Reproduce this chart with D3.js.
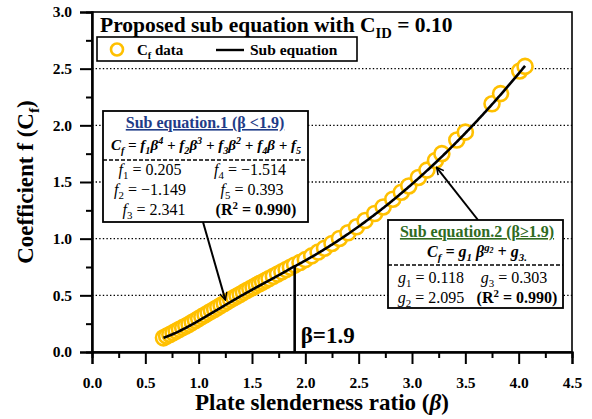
<!DOCTYPE html>
<html>
<head>
<meta charset="utf-8">
<script src="https://cdn.jsdelivr.net/npm/d3@7"></script>
<style>
  body { margin: 0; background: #fff; }
  svg { display: block; }
  text { font-family: "Liberation Serif", "Times New Roman", serif; }
</style>
</head>
<body>
<div id="chart"></div>
<script>
"use strict";

// Cf data points
const betaData = [0.67, 0.70, 0.73, 0.76, 0.79, 0.82, 0.85, 0.88, 0.91, 0.94, 0.97, 1.00,
  1.03, 1.06, 1.09, 1.12, 1.15, 1.18, 1.21, 1.24, 1.27, 1.30, 1.33, 1.36, 1.39, 1.42,
  1.45, 1.48, 1.51, 1.54, 1.57, 1.60, 1.63, 1.66, 1.70, 1.74, 1.78, 1.82, 1.86, 1.90,
  1.95, 2.00, 2.06, 2.12, 2.18, 2.25, 2.32, 2.40, 2.48, 2.56, 2.65, 2.73, 2.82, 2.90,
  2.97, 3.06, 3.14, 3.22, 3.28, 3.42, 3.50, 3.75, 3.83, 4.01, 4.06];
const cfData = [0.125, 0.14, 0.155, 0.17, 0.185, 0.20, 0.215, 0.23, 0.245, 0.262, 0.278, 0.295,
  0.312, 0.328, 0.345, 0.362, 0.378, 0.395, 0.412, 0.428, 0.445, 0.462, 0.478, 0.494, 0.51, 0.526,
  0.542, 0.557, 0.572, 0.588, 0.603, 0.618, 0.633, 0.648, 0.668, 0.688, 0.708, 0.728, 0.748, 0.768,
  0.79, 0.815, 0.848, 0.882, 0.916, 0.958, 1.002, 1.052, 1.105, 1.16, 1.222, 1.28, 1.348, 1.41,
  1.465, 1.54, 1.605, 1.69, 1.75, 1.87, 1.94, 2.19, 2.28, 2.48, 2.52];

// fitted coefficients printed on the chart
const fCoef = [0.205, -1.149, 2.341, -1.514, 0.393];
const gCoef = [0.118, 2.095, 0.303];
const splitBeta = 1.9;
const curveStart = 0.67;
const curveEnd = 4.06;

const xTicks = [0, 0.5, 1, 1.5, 2, 2.5, 3, 3.5, 4, 4.5];
const yTicks = [0, 0.5, 1, 1.5, 2, 2.5, 3];
const xMinor = [0.25, 0.75, 1.25, 1.75, 2.25, 2.75, 3.25, 3.75, 4.25];
const yMinor = [0.25, 0.75, 1.25, 1.75, 2.25, 2.75];
const gridValues = [0.5, 1, 1.5, 2, 2.5];

const size = { width: 592, height: 419, left: 92, right: 572, top: 12, bottom: 352 };
const gold = "#FFC000";

const svg = d3.select("#chart").append("svg")
  .attr("width", size.width)
  .attr("height", size.height);

const x = d3.scaleLinear().domain([0, 4.5]).range([size.left, size.right]);
const y = d3.scaleLinear().domain([0, 3]).range([size.bottom, size.top]);

// write text made of parts: {t, i (italic), s: "sub" | "sup" | "supsub"}
function rich(el, parts, fs) {
  let shift = 0;
  parts.forEach(p => {
    let target = 0, scale = 1;
    if (p.s === "sub") { target = fs * 0.28; scale = 0.68; }
    if (p.s === "sup") { target = -fs * 0.38; scale = 0.68; }
    if (p.s === "supsub") { target = -fs * 0.22; scale = 0.5; }
    const ts = el.append("tspan")
      .attr("dy", target - shift)
      .style("font-size", (fs * scale) + "px")
      .text(p.t);
    if (p.i) ts.style("font-style", "italic");
    shift = target;
  });
  return el;
}

// dotted grid
svg.append("g").selectAll("line")
  .data(gridValues)
  .enter()
  .append("line")
  .attr("x1", size.left).attr("x2", size.right)
  .attr("y1", d => y(d)).attr("y2", d => y(d))
  .attr("stroke", "#000")
  .attr("stroke-width", 1.4)
  .attr("stroke-dasharray", "1.4,2.2");

// frame
svg.append("rect")
  .attr("x", size.left).attr("y", size.top)
  .attr("width", size.right - size.left)
  .attr("height", size.bottom - size.top)
  .attr("fill", "none")
  .attr("stroke", "#000")
  .attr("stroke-width", 1.6);

// axes
function styleAxis(g) {
  g.select(".domain").attr("stroke-width", 2);
  g.selectAll(".tick line").attr("stroke-width", 2);
  g.selectAll(".tick text")
    .style("font-family", "'Liberation Serif', serif")
    .style("font-weight", "bold")
    .style("font-size", "15.5px")
    .attr("fill", "#000");
}

svg.append("g")
  .attr("transform", "translate(0," + size.bottom + ")")
  .call(d3.axisBottom(x).tickValues(xTicks).tickSize(12).tickPadding(13).tickFormat(d3.format(".1f")))
  .call(styleAxis);
svg.append("g")
  .attr("transform", "translate(0," + size.bottom + ")")
  .call(d3.axisBottom(x).tickValues(xMinor).tickSize(6).tickFormat(""))
  .call(styleAxis);
svg.append("g")
  .attr("transform", "translate(" + size.left + ",0)")
  .call(d3.axisLeft(y).tickValues(yTicks).tickSize(12).tickPadding(8).tickFormat(d3.format(".1f")))
  .call(styleAxis);
svg.append("g")
  .attr("transform", "translate(" + size.left + ",0)")
  .call(d3.axisLeft(y).tickValues(yMinor).tickSize(6).tickFormat(""))
  .call(styleAxis);

// data circles
const points = betaData.map((b, i) => ({ b: b, c: cfData[i] }));
svg.append("g").selectAll("circle")
  .data(points)
  .enter()
  .append("circle")
  .attr("cx", d => x(d.b))
  .attr("cy", d => y(d.c))
  .attr("r", 7.5)
  .attr("fill", "#fff")
  .attr("stroke", gold)
  .attr("stroke-width", 2.6);

// sub equation curve
function subEq(b) {
  if (b < splitBeta) {
    return fCoef[0] * b ** 4 + fCoef[1] * b ** 3 + fCoef[2] * b ** 2 + fCoef[3] * b + fCoef[4];
  }
  return gCoef[0] * Math.pow(b, gCoef[1]) + gCoef[2];
}
const curveB = d3.range(curveStart, curveEnd, 0.01).concat([curveEnd]);
svg.append("path")
  .datum(curveB)
  .attr("fill", "none")
  .attr("stroke", "#000")
  .attr("stroke-width", 2.6)
  .attr("d", d3.line().x(d => x(d)).y(d => y(subEq(d))));

// beta = 1.9 marker
svg.append("line")
  .attr("x1", x(splitBeta)).attr("x2", x(splitBeta))
  .attr("y1", y(subEq(splitBeta))).attr("y2", size.bottom)
  .attr("stroke", "#000")
  .attr("stroke-width", 2.6);
svg.append("text")
  .attr("x", x(splitBeta) + 6)
  .attr("y", 343)
  .style("font-size", "23px")
  .style("font-weight", "bold")
  .text("β=1.9");

// title
rich(svg.append("text").attr("x", 100).attr("y", 32).style("font-weight", "bold"),
  [{ t: "Proposed sub equation with C" }, { t: "ID", s: "sub" }, { t: " = 0.10" }], 21.5);

// legend
svg.append("rect")
  .attr("x", 97).attr("y", 37).attr("width", 260).attr("height", 24)
  .attr("fill", "#fff").attr("stroke", "#000").attr("stroke-width", 1.6);
svg.append("circle")
  .attr("cx", 117).attr("cy", 49.5).attr("r", 6)
  .attr("fill", "#fff").attr("stroke", gold).attr("stroke-width", 2.6);
rich(svg.append("text").attr("x", 137).attr("y", 54.5).style("font-weight", "bold"),
  [{ t: "C" }, { t: "f", s: "sub" }, { t: " data" }], 15);
svg.append("line")
  .attr("x1", 216).attr("x2", 244).attr("y1", 50).attr("y2", 50)
  .attr("stroke", "#000").attr("stroke-width", 2.4);
svg.append("text")
  .attr("x", 250).attr("y", 54.5)
  .style("font-size", "15.5px").style("font-weight", "bold")
  .text("Sub equation");

// axis titles
rich(svg.append("text")
  .attr("transform", "translate(33,182) rotate(-90)")
  .attr("text-anchor", "middle")
  .style("font-weight", "bold"),
  [{ t: "Coefficient f (C" }, { t: "f", s: "sub" }, { t: ")" }], 23);
rich(svg.append("text")
  .attr("x", 322).attr("y", 410)
  .attr("text-anchor", "middle")
  .style("font-weight", "bold"),
  [{ t: "Plate slenderness ratio (" }, { t: "β", i: true }, { t: ")" }], 23);

// arrows
svg.append("defs").append("marker")
  .attr("id", "arrow")
  .attr("viewBox", "0 0 10 10")
  .attr("refX", 9).attr("refY", 5)
  .attr("markerWidth", 9).attr("markerHeight", 9)
  .attr("markerUnits", "userSpaceOnUse")
  .attr("orient", "auto")
  .append("path")
  .attr("d", "M1,1 L9,5 L1,9")
  .attr("fill", "none")
  .attr("stroke", "#000")
  .attr("stroke-width", 1.6);

svg.append("line")
  .attr("x1", 203).attr("y1", 222)
  .attr("x2", x(1.25)).attr("y2", y(0.46))
  .attr("stroke", "#000").attr("stroke-width", 2)
  .attr("marker-end", "url(#arrow)");
svg.append("line")
  .attr("x1", 478).attr("y1", 220)
  .attr("x2", x(3.23)).attr("y2", y(1.63))
  .attr("stroke", "#000").attr("stroke-width", 2)
  .attr("marker-end", "url(#arrow)");

// equation box 1
const b1 = svg.append("g");
b1.append("rect")
  .attr("x", 103).attr("y", 111).attr("width", 205).attr("height", 111)
  .attr("fill", "#fff").attr("stroke", "#000").attr("stroke-width", 1.8);
b1.append("text")
  .attr("x", 205).attr("y", 128).attr("text-anchor", "middle")
  .attr("fill", "#1F3C88")
  .style("font-size", "16px").style("font-weight", "bold")
  .style("text-decoration", "underline")
  .text("Sub equation.1 (β <1.9)");
rich(b1.append("text").attr("x", 206).attr("y", 150).attr("text-anchor", "middle")
  .style("font-weight", "bold").style("font-style", "italic"),
  [{ t: "C" }, { t: "f", s: "sub" }, { t: " = " }, { t: "f" }, { t: "1", s: "sub" }, { t: "β" }, { t: "4", s: "sup" },
   { t: " + " }, { t: "f" }, { t: "2", s: "sub" }, { t: "β" }, { t: "3", s: "sup" },
   { t: " + " }, { t: "f" }, { t: "3", s: "sub" }, { t: "β" }, { t: "2", s: "sup" },
   { t: " + " }, { t: "f" }, { t: "4", s: "sub" }, { t: "β" }, { t: " + " }, { t: "f" }, { t: "5", s: "sub" }], 15);
b1.append("line")
  .attr("x1", 103).attr("x2", 308).attr("y1", 160).attr("y2", 160)
  .attr("stroke", "#000").attr("stroke-width", 1.4).attr("stroke-dasharray", "4,2");

function coefRow(g, cx, yy, name, idx, value) {
  rich(g.append("text").attr("x", cx).attr("y", yy).attr("text-anchor", "middle"),
    [{ t: name, i: true }, { t: idx, s: "sub" }, { t: " = " + value }], 16);
}
coefRow(b1, 150, 175, "f", "1", "0.205");
coefRow(b1, 250, 175, "f", "4", "−1.514");
coefRow(b1, 150, 195, "f", "2", "−1.149");
coefRow(b1, 252, 195, "f", "5", "0.393");
coefRow(b1, 154, 215, "f", "3", "2.341");
rich(b1.append("text").attr("x", 256).attr("y", 215).attr("text-anchor", "middle").style("font-weight", "bold"),
  [{ t: "(R" }, { t: "2", s: "sup" }, { t: " = 0.990)" }], 16);

// equation box 2
const b2 = svg.append("g");
b2.append("rect")
  .attr("x", 388).attr("y", 220).attr("width", 175).attr("height", 88)
  .attr("fill", "#fff").attr("stroke", "#000").attr("stroke-width", 1.8);
b2.append("text")
  .attr("x", 477).attr("y", 237).attr("text-anchor", "middle")
  .attr("fill", "#2F6B1F")
  .style("font-size", "16px").style("font-weight", "bold")
  .style("text-decoration", "underline")
  .text("Sub equation.2 (β≥1.9)");
rich(b2.append("text").attr("x", 477).attr("y", 257).attr("text-anchor", "middle")
  .style("font-weight", "bold").style("font-style", "italic"),
  [{ t: "C" }, { t: "f", s: "sub" }, { t: "  = " }, { t: "g" }, { t: "1", s: "sub" }, { t: " β" },
   { t: "g", s: "sup" }, { t: "2", s: "supsub" }, { t: " + " }, { t: "g" }, { t: "3.", s: "sub" }], 16);
b2.append("line")
  .attr("x1", 388).attr("x2", 563).attr("y1", 265).attr("y2", 265)
  .attr("stroke", "#000").attr("stroke-width", 1.4).attr("stroke-dasharray", "4,2");
coefRow(b2, 431, 283, "g", "1", "0.118");
coefRow(b2, 514, 283, "g", "3", "0.303");
coefRow(b2, 431, 303, "g", "2", "2.095");
rich(b2.append("text").attr("x", 517).attr("y", 303).attr("text-anchor", "middle").style("font-weight", "bold"),
  [{ t: "(R" }, { t: "2", s: "sup" }, { t: " = 0.990)" }], 16);
</script>
</body>
</html>
